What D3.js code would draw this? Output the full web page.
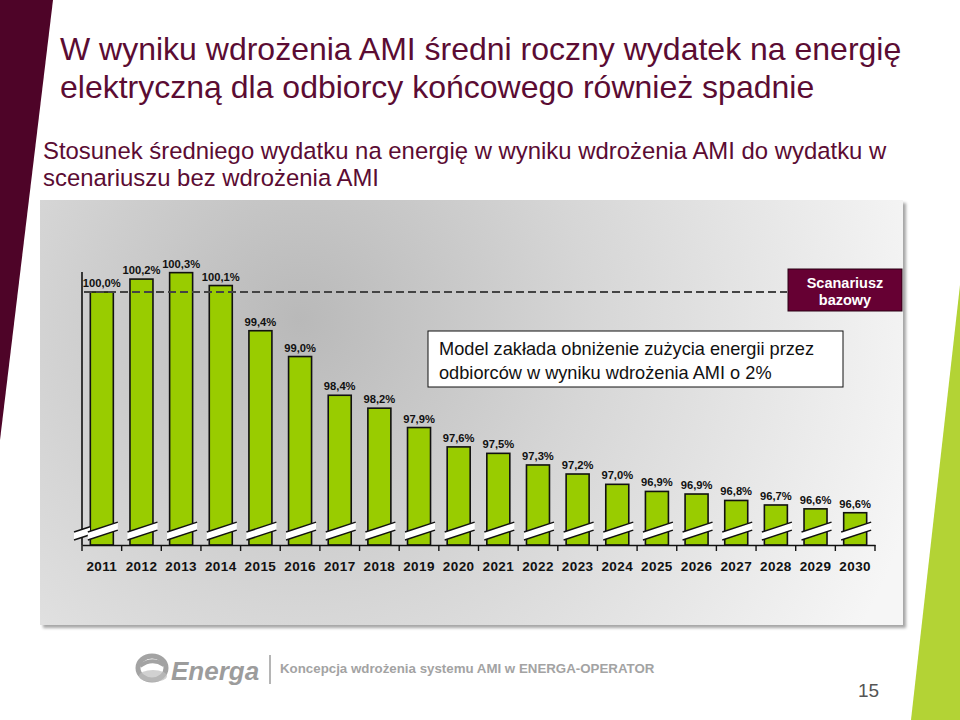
<!DOCTYPE html>
<html>
<head>
<meta charset="utf-8">
<script src="https://cdn.jsdelivr.net/npm/d3@7"></script>
<style>
  html, body { margin: 0; padding: 0; background: #ffffff; }
  svg { display: block; font-family: "Liberation Sans", Arial, sans-serif; }
</style>
</head>
<body>
<svg id="chart" width="960" height="720"></svg>
<script>
// ---- data ----
const years = ["2011","2012","2013","2014","2015","2016","2017","2018","2019","2020",
               "2021","2022","2023","2024","2025","2026","2027","2028","2029","2030"];
const ratios = [100.0, 100.2, 100.3, 100.1, 99.4, 99.0, 98.4, 98.2, 97.9, 97.6,
                97.5, 97.32, 97.18, 97.02, 96.91, 96.87, 96.77, 96.70, 96.64, 96.58];
const baseline = 100.0;
const titleLines = ["W wyniku wdrożenia AMI średni roczny wydatek na energię",
                    "elektryczną dla odbiorcy końcowego również spadnie"];
const subtitleLines = ["Stosunek średniego wydatku na energię w wyniku wdrożenia AMI do wydatku w",
                       "scenariuszu bez wdrożenia AMI"];
const baseLabel = ["Scanariusz", "bazowy"];
const noteLines = ["Model zakłada obniżenie zużycia energii przez",
                   "odbiorców w wyniku wdrożenia AMI o 2%"];
const footerText = "Koncepcja wdrożenia systemu AMI w ENERGA-OPERATOR";
const pageNumber = "15";

const svg = d3.select("#chart");
const defs = svg.append("defs");

// decorations
svg.append("polygon").attr("points", "0,0 53,0 0,440").attr("fill", "#4e0428");
svg.append("polygon").attr("points", "960,285 960,720 911,720").attr("fill", "#b3d335");

// titles
const maroon = "#5b0c33";
svg.append("g").selectAll("text").data(titleLines).join("text")
  .attr("x", 60).attr("y", (d, i) => 60 + i * 38)
  .attr("font-size", 32).attr("fill", maroon).text(d => d);
svg.append("g").selectAll("text").data(subtitleLines).join("text")
  .attr("x", 43).attr("y", (d, i) => 159 + i * 27)
  .attr("font-size", 23.9).attr("fill", maroon).text(d => d);

// panel
const rg = defs.append("radialGradient").attr("id", "panelGrad")
  .attr("gradientUnits", "userSpaceOnUse")
  .attr("cx", 300).attr("cy", 320).attr("r", 640);
rg.append("stop").attr("offset", 0).attr("stop-color", "#b9b9b9");
rg.append("stop").attr("offset", 0.45).attr("stop-color", "#d6d6d6");
rg.append("stop").attr("offset", 1).attr("stop-color", "#f6f6f6");
const sh = defs.append("filter").attr("id", "shadow").attr("x", "-5%").attr("y", "-5%").attr("width", "110%").attr("height", "110%");
sh.append("feDropShadow").attr("dx", 3).attr("dy", 3).attr("stdDeviation", 1.5).attr("flood-color", "#000").attr("flood-opacity", 0.35);
svg.append("rect").attr("x", 40).attr("y", 200).attr("width", 863).attr("height", 425)
  .attr("fill", "url(#panelGrad)").attr("filter", "url(#shadow)");

// scales
const x = d3.scaleBand().domain(years).range([82, 875]).padding(0);
const y = d3.scaleLinear().domain([96.08, baseline]).range([545, 292]);
const bw = x.bandwidth() * 0.58;
const fmt = v => d3.format(".1f")(v).replace(".", ",") + "%";

const chart = svg.append("g");

// bars
chart.selectAll("rect.bar").data(years).join("rect").attr("class", "bar")
  .attr("x", d => x(d) + (x.bandwidth() - bw) / 2)
  .attr("y", (d, i) => y(ratios[i]))
  .attr("width", bw)
  .attr("height", (d, i) => y(96.08) - y(ratios[i]))
  .attr("fill", "#99cc00").attr("stroke", "#111").attr("stroke-width", 1.6);

// value labels
chart.selectAll("text.val").data(years).join("text").attr("class", "val")
  .attr("x", d => x(d) + x.bandwidth() / 2)
  .attr("y", (d, i) => y(ratios[i]) - 5)
  .attr("text-anchor", "middle").attr("font-size", 11.2).attr("font-weight", "bold")
  .attr("fill", "#111").text((d, i) => fmt(ratios[i]));

// baseline dashed
chart.append("line").attr("x1", 84).attr("x2", 787)
  .attr("y1", y(baseline)).attr("y2", y(baseline))
  .attr("stroke", "#444").attr("stroke-width", 1.8).attr("stroke-dasharray", "8,4");

// axes
const xAxis = d3.axisBottom(x).tickSize(0).tickPadding(16);
const gx = chart.append("g").attr("transform", "translate(0,545)").call(xAxis);
gx.select(".domain").attr("stroke", "#111").attr("stroke-width", 1.6);
gx.selectAll("text").attr("font-size", 13.5).attr("font-weight", "bold")
  .attr("letter-spacing", 0.4)
  .attr("font-family", "Liberation Sans, Arial, sans-serif").attr("fill", "#111");
// boundary ticks
const bounds = years.map(d => x(d)).concat([x(years[years.length - 1]) + x.bandwidth()]);
chart.selectAll("line.tk").data(bounds).join("line").attr("class", "tk")
  .attr("x1", d => d).attr("x2", d => d).attr("y1", 545).attr("y2", 551)
  .attr("stroke", "#111").attr("stroke-width", 1.4);
// y axis line
chart.append("line").attr("x1", 82).attr("x2", 82).attr("y1", 272).attr("y2", 545)
  .attr("stroke", "#111").attr("stroke-width", 1.6);

// break marks
function breakMark(x0, x1) {
  const yc0 = 536, slope = -0.33;
  const yl = xx => yc0 + (xx - x0) * slope;
  const g = chart.append("g");
  g.append("polygon")
    .attr("points", [[x0, yl(x0) - 4], [x1, yl(x1) - 4], [x1, yl(x1) + 4], [x0, yl(x0) + 4]].map(p => p.join(",")).join(" "))
    .attr("fill", "#fff");
  [-4, 4].forEach(o => g.append("line")
    .attr("x1", x0).attr("y1", yl(x0) + o).attr("x2", x1).attr("y2", yl(x1) + o)
    .attr("stroke", "#111").attr("stroke-width", 1.5));
}
breakMark(74, 90);
years.forEach(d => {
  const cx = x(d) + x.bandwidth() / 2;
  breakMark(cx - 14, cx + 16);
});

// scenario box
chart.append("rect").attr("x", 788).attr("y", 269).attr("width", 114).attr("height", 42)
  .attr("fill", "#660033").attr("stroke", "#2a0014").attr("stroke-width", 1);
chart.append("g").selectAll("text").data(baseLabel).join("text")
  .attr("x", 845).attr("y", (d, i) => 288 + i * 17).attr("text-anchor", "middle")
  .attr("font-size", 14.5).attr("font-weight", "bold").attr("fill", "#fff").text(d => d);

// note box
chart.append("rect").attr("x", 428).attr("y", 331).attr("width", 415).attr("height", 56)
  .attr("fill", "#fff").attr("stroke", "#111").attr("stroke-width", 1);
chart.append("g").selectAll("text").data(noteLines).join("text")
  .attr("x", 439).attr("y", (d, i) => 355 + i * 24)
  .attr("font-size", 18.2).attr("fill", "#111").text(d => d);

// footer logo
const logo = svg.append("g");
logo.append("ellipse").attr("cx", 152).attr("cy", 668).attr("rx", 14).attr("ry", 12)
  .attr("fill", "none").attr("stroke", "#a3a3a3").attr("stroke-width", 5);
logo.append("path").attr("d", "M140,666 Q152,657 164,665").attr("fill", "none")
  .attr("stroke", "#a3a3a3").attr("stroke-width", 4);
logo.append("ellipse").attr("cx", 153).attr("cy", 676).attr("rx", 14).attr("ry", 6)
  .attr("fill", "#bdbdbd").attr("opacity", 0.7);
logo.append("text").attr("x", 171).attr("y", 680).attr("font-size", 26)
  .attr("font-weight", "bold").attr("font-style", "italic").attr("fill", "#9c9c9c").text("Energa");
logo.append("line").attr("x1", 270).attr("x2", 270).attr("y1", 655).attr("y2", 684)
  .attr("stroke", "#9c9c9c").attr("stroke-width", 1.5);
svg.append("text").attr("x", 280).attr("y", 673).attr("font-size", 13.3).attr("font-weight", "bold")
  .attr("fill", "#a3a3a3").text(footerText);
svg.append("text").attr("x", 858).attr("y", 697).attr("font-size", 19)
  .attr("fill", "#555").text(pageNumber);
</script>
</body>
</html>
